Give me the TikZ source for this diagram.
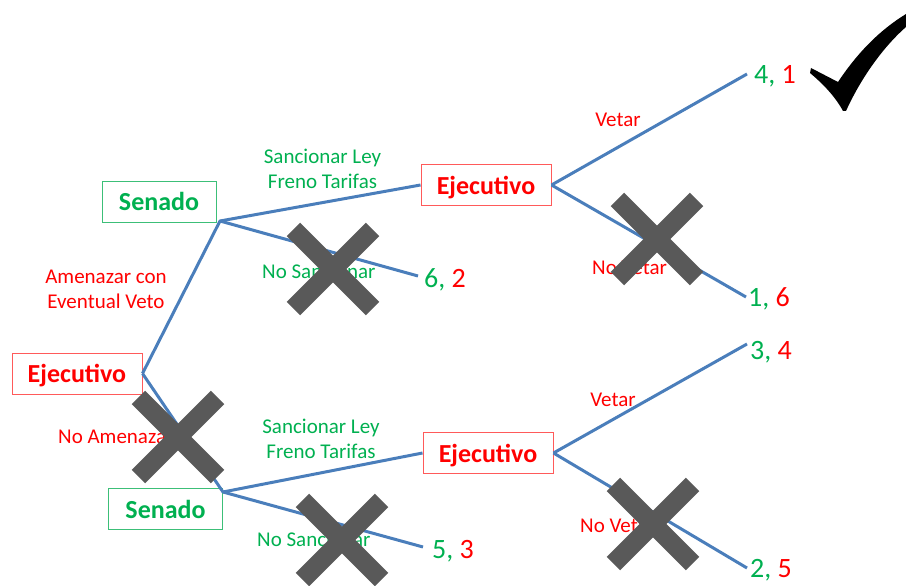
\documentclass[tikz,border=0pt]{standalone}
\usepackage{fontspec}
\setmainfont{Carlito}
\definecolor{lineblue}{HTML}{4A7EBB}
\definecolor{txtred}{HTML}{FF0000}
\definecolor{txtgreen}{HTML}{00B050}
\definecolor{boxred}{HTML}{FF5A5A}
\definecolor{boxgreen}{HTML}{3CBF78}
\definecolor{crossgray}{HTML}{595959}
\begin{document}
\begin{tikzpicture}[x=1pt,y=-1pt,
  branch/.style={draw=lineblue, line width=3pt, line join=round},
  playerbox/.style={line width=1pt, font=\fontsize{26}{30}\selectfont\bfseries,
    minimum height=41pt, text height=18pt, text depth=0pt, inner sep=0pt},
  execbox/.style={playerbox, draw=boxred, text=txtred, minimum width=130pt},
  senbox/.style={playerbox, draw=boxgreen, text=txtgreen, minimum width=114pt},
  lbl/.style={font=\fontsize{21}{25}\selectfont, inner sep=0pt, align=center},
  redlbl/.style={lbl, text=txtred},
  greenlbl/.style={lbl, text=txtgreen},
  payoff/.style={font=\fontsize{28}{32}\selectfont, inner sep=0pt, anchor=base west},
  cross/.style={draw=crossgray, line width=19pt, line cap=butt},
  xmark/.pic={\draw[cross] (-39.6,-39.6) -- (39.6,39.6);
              \draw[cross] (-39.6,39.6) -- (39.6,-39.6);}]

\useasboundingbox (0,0) rectangle (906,586);

% decision nodes
\node[execbox] (ej0) at (77,373.5) {Ejecutivo};
\node[senbox]  (sen1) at (159,201.5) {Senado};
\node[senbox]  (sen2) at (165.5,509) {Senado};
\node[execbox] (ej1) at (486,185) {Ejecutivo};
\node[execbox] (ej2) at (488,453) {Ejecutivo};

% branching points of the Senate's moves
\coordinate (a1) at (220,221);
\coordinate (a2) at (223,492);

% ends of the terminal branches
\coordinate (t41) at (747,74);
\coordinate (t16) at (746,297);
\coordinate (t62) at (418,276);
\coordinate (t53) at (423,547);
\coordinate (t34) at (747,344);
\coordinate (t25) at (747,568);

% branches
\draw[branch] (ej0.east) -- (a1) -- (ej1.west);
\draw[branch] (a1) -- (t62);
\draw[branch] (ej0.east) -- (a2) -- (ej2.west);
\draw[branch] (a2) -- (t53);
\draw[branch] (ej1.east) -- (t41);
\draw[branch] (ej1.east) -- (t16);
\draw[branch] (ej2.east) -- (t34);
\draw[branch] (ej2.east) -- (t25);

% move labels
\node[redlbl] (l1) at (106,289) {Amenazar con\\Eventual Veto};
\node[redlbl, anchor=base west] (l2) at (58,443) {No Amenazar};
\node[greenlbl] (l3) at (322.5,169) {Sancionar Ley\\Freno Tarifas};
\node[greenlbl, anchor=base west] (l4) at (262,278) {No Sancionar};
\node[greenlbl] (l5) at (321,439) {Sancionar Ley\\Freno Tarifas};
\node[greenlbl, anchor=base west] (l6) at (257,546) {No Sancionar};
\node[redlbl, anchor=base] (l7) at (618,126) {Vetar};
\node[redlbl, anchor=base west] (l8) at (592,274) {No Vetar};
\node[redlbl, anchor=base] (l9) at (613,406) {Vetar};
\node[redlbl, anchor=base west] (l10) at (580,532) {No Vetar};

% payoffs
\node[payoff] (p41) at (754,84) {{\color{txtgreen}4,} {\color{txtred}1}};
\node[payoff] (p16) at (748,306) {{\color{txtgreen}1,} {\color{txtred}6}};
\node[payoff] (p62) at (424,287) {{\color{txtgreen}6,} {\color{txtred}2}};
\node[payoff] (p53) at (432,558) {{\color{txtgreen}5,} {\color{txtred}3}};
\node[payoff] (p34) at (750,359) {{\color{txtgreen}3,} {\color{txtred}4}};
\node[payoff] (p25) at (750,577) {{\color{txtgreen}2,} {\color{txtred}5}};

% discarded moves
\pic at (333,269) {xmark};
\pic at (178,437) {xmark};
\pic at (657,239) {xmark};
\pic at (342,540) {xmark};
\pic at (653,524) {xmark};

% equilibrium tick
\fill[black] (811,68) -- (838,82)
  .. controls (858,52) and (880,30) .. (906,14) -- (906,27)
  .. controls (882,48) and (860,80) .. (846,111) -- (843,111)
  .. controls (835,96) and (822,83) .. (810,73) -- cycle;
\end{tikzpicture}
\end{document}
